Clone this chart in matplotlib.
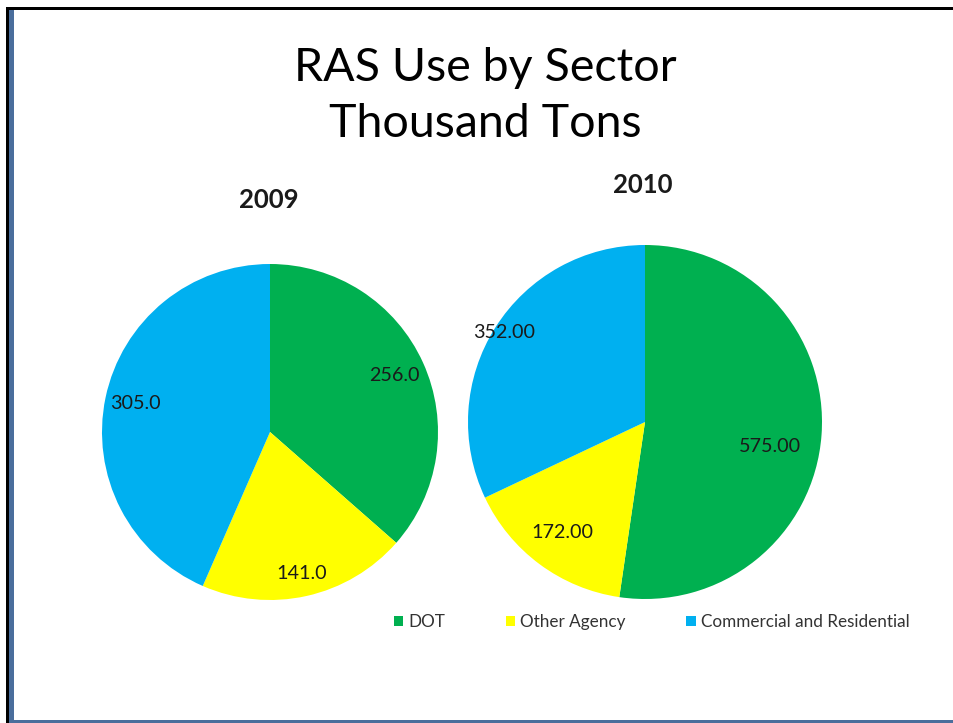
import matplotlib.pyplot as plt
import numpy as np
from matplotlib.patches import Rectangle, Patch

plt.rcParams['font.family'] = ['Lato', 'DejaVu Sans']

# Datos
sectors = ['DOT', 'Other Agency', 'Commercial and Residential']
colors = ['#00B050', '#FFFF00', '#00B0F0']
values_2009 = [256.0, 141.0, 305.0]
values_2010 = [575.00, 172.00, 352.00]
labels_2009 = ['256.0', '141.0', '305.0']
labels_2010 = ['575.00', '172.00', '352.00']

W, H = 954, 723
fig = plt.figure(figsize=(W / 100, H / 100), dpi=100)
fig.patch.set_facecolor('white')


def pie_axes(cx, cy, r):
    ax = fig.add_axes([(cx - r) / W, (H - cy - r) / H, 2 * r / W, 2 * r / H])
    return ax


def draw_pie(ax, values, labels, dists, shifts):
    wedges, _ = ax.pie(values, colors=colors, startangle=90, counterclock=False,
                       radius=1, wedgeprops=dict(linewidth=0))
    # pie() pone los limites en +-1.25, los ajustamos al radio
    ax.set_xlim(-1, 1)
    ax.set_ylim(-1, 1)
    ax.set_aspect('equal')
    ax.axis('off')
    for w, lab, d, s in zip(wedges, labels, dists, shifts):
        ang = np.deg2rad((w.theta1 + w.theta2) / 2 + s)
        ax.text(d * np.cos(ang), d * np.sin(ang), lab, ha='center', va='center',
                fontsize=14.2, color='#1a1a1a')


ax1 = pie_axes(270, 432, 168)
draw_pie(ax1, values_2009, labels_2009, [0.81, 0.86, 0.82], [0, 0, 0])

ax2 = pie_axes(645, 422, 177)
draw_pie(ax2, values_2010, labels_2010, [0.72, 0.78, 0.94], [-7, 0, 0])

# Títulos
fig.text(485 / W, 1 - 96 / H, 'RAS Use by Sector\nThousand Tons', ha='center', va='center',
         fontsize=33.5, linespacing=1.4, color='black')
fig.text(269 / W, 1 - 200 / H, '2009', ha='center', va='center', fontsize=18.5,
         fontweight='bold', color='#1a1a1a')
fig.text(643 / W, 1 - 185 / H, '2010', ha='center', va='center', fontsize=18.5,
         fontweight='bold', color='#1a1a1a')

# Leyenda
handles = [Patch(facecolor=c, edgecolor='none') for c in colors]
fig.legend(handles, sectors, loc='center left', bbox_to_anchor=(385 / W, 1 - 622 / H),
           ncol=3, frameon=False, fontsize=12.3, handlelength=0.55, handleheight=0.55,
           handletextpad=0.3, columnspacing=3.55, borderpad=0, labelcolor='#333333')

# Marco
fig.add_artist(Rectangle((6 / W, 0), 3 / W, (H - 7) / H, transform=fig.transFigure,
                         facecolor='black', edgecolor='none'))
fig.add_artist(Rectangle((9 / W, 0), 5 / W, (H - 10) / H, transform=fig.transFigure,
                         facecolor='#4a6e9c', edgecolor='none'))
fig.add_artist(Rectangle((6 / W, 1 - 10 / H), (W - 6) / W, 3 / H, transform=fig.transFigure,
                         facecolor='black', edgecolor='none'))
fig.add_artist(Rectangle((9 / W, 0), (W - 9) / W, 3 / H, transform=fig.transFigure,
                         facecolor='#4a6e9c', edgecolor='none'))

fig.savefig('out.png', dpi=100)
